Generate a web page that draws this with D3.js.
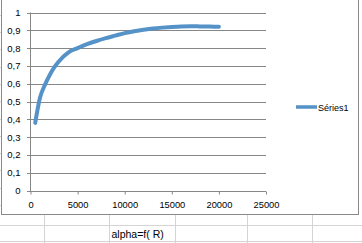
<!DOCTYPE html>
<html><head><meta charset="utf-8">
<script src="https://cdn.jsdelivr.net/npm/d3@7"></script>
<style>html,body{margin:0;padding:0;background:#fff;overflow:hidden}</style>
</head><body>
<svg id="c" width="362" height="243"></svg>
<script>
const xValues = [500, 1000, 1500, 2000, 2500, 3000, 4000, 5000, 6000, 7000, 8000, 9000, 10000, 11000, 12000, 13000, 14000, 15000, 16000, 17000, 18000, 19000, 20000];
const yValues = [0.38, 0.52, 0.59, 0.645, 0.69, 0.725, 0.775, 0.80, 0.822, 0.84, 0.856, 0.87, 0.884, 0.895, 0.903, 0.91, 0.915, 0.919, 0.922, 0.923, 0.922, 0.921, 0.92];
const xTicks = [0, 5000, 10000, 15000, 20000, 25000];
const yTicks = [0, 0.1, 0.2, 0.3, 0.4, 0.5, 0.6, 0.7, 0.8, 0.9, 1];
const yTickLabels = ["0", "0,1", "0,2", "0,3", "0,4", "0,5", "0,6", "0,7", "0,8", "0,9", "1"];
const seriesName = "Séries1";
const cellText = "alpha=f( R)";

const svg = d3.select("#c");
const font = "'Liberation Sans', Arial, sans-serif";
const color = "#5592c8";

// spreadsheet grid below the chart
const sheet = svg.append("g").attr("stroke", "#d4d4d4").attr("stroke-width", 1);
[225.5, 241.5].forEach(y => sheet.append("line").attr("x1", 0).attr("x2", 362).attr("y1", y).attr("y2", y));
[44.5, 109.5, 175.5, 247.5, 312.5].forEach(x => sheet.append("line").attr("x1", x).attr("x2", x).attr("y1", 215).attr("y2", 243));
d3.range(205, 0, -17.3).forEach(y => sheet.append("line").attr("x1", 0).attr("x2", 1).attr("y1", Math.round(y) + 0.5).attr("y2", Math.round(y) + 0.5));
svg.append("text").attr("x", 111.5).attr("y", 238).attr("font-family", font).attr("font-size", 10.5).attr("fill", "#000").text(cellText);

// chart border
svg.append("rect").attr("x", 1.5).attr("y", -5).attr("width", 357).attr("height", 219.5)
  .attr("fill", "#fff").attr("stroke", "#8a8a8a").attr("stroke-width", 1);

const x = d3.scaleLinear().domain([0, 25000]).range([30.5, 266]);
const y = d3.scaleLinear().domain([0, 1]).range([190.5, 12.5]);

// gridlines
const grid = svg.append("g").attr("stroke", "#878787").attr("stroke-width", 1);
yTicks.forEach(t => grid.append("line").attr("x1", 27).attr("x2", x(25000)).attr("y1", Math.round(y(t)) + 0.5).attr("y2", Math.round(y(t)) + 0.5));
grid.append("line").attr("x1", 30.5).attr("x2", 30.5).attr("y1", y(1)).attr("y2", y(0) + 0.5);

// x axis
const xAxis = d3.axisBottom(x).tickValues(xTicks).tickSize(3).tickPadding(7).tickFormat(d3.format("d"));
const gx = svg.append("g").attr("transform", `translate(0,${Math.round(y(0)) + 0.5})`).call(xAxis);
gx.select(".domain").attr("stroke", "#878787").attr("d", `M${x(0)},0H${x(25000)}`);
gx.selectAll(".tick line").attr("stroke", "#878787");
gx.selectAll(".tick text").attr("font-family", font).attr("font-size", 9.3).attr("fill", "#000");

// y labels
svg.append("g").selectAll("text").data(yTicks).join("text")
  .attr("x", 20.5).attr("y", d => y(d) + 3.5).attr("text-anchor", "end")
  .attr("font-family", font).attr("font-size", 9.5).attr("fill", "#000")
  .text((d, i) => yTickLabels[i]);

// series
const pts = xValues.map((v, i) => [v, yValues[i]]);
svg.append("path").datum(pts)
  .attr("fill", "none").attr("stroke", color).attr("stroke-width", 4).attr("stroke-linecap", "round")
  .attr("d", d3.line().x(d => x(d[0])).y(d => y(d[1])).curve(d3.curveMonotoneX));

// legend
svg.append("line").attr("x1", 296).attr("x2", 317).attr("y1", 107).attr("y2", 107)
  .attr("stroke", color).attr("stroke-width", 3.5);
svg.append("text").attr("x", 318).attr("y", 110.5).attr("font-family", font).attr("font-size", 9)
  .attr("fill", "#000").text(seriesName);
</script>
</body></html>
